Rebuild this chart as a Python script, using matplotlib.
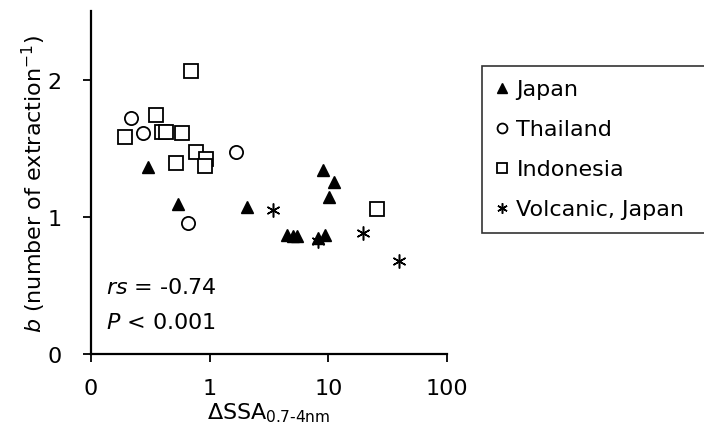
import numpy as np
import matplotlib
matplotlib.use('Agg')
import matplotlib.pyplot as plt
from matplotlib.ticker import FixedLocator, FixedFormatter, NullLocator

plt.rcParams['font.family'] = ['DejaVu Sans']
plt.rcParams['mathtext.fontset'] = 'dejavusans'

# data
japan_x = [0.30, 0.54, 2.05, 4.5, 5.0, 5.4, 8.2, 9.4, 9.1, 11.2, 10.1]
japan_y = [1.365, 1.09, 1.07, 0.87, 0.86, 0.857, 0.845, 0.87, 1.34, 1.256, 1.147]

thai_x = [0.218, 0.274, 1.66, 0.66]
thai_y = [1.72, 1.61, 1.47, 0.954]

indo_x = [0.70, 0.353, 0.194, 0.40, 0.43, 0.587, 0.76, 0.94, 0.91, 0.52, 25.5]
indo_y = [2.06, 1.744, 1.58, 1.62, 1.62, 1.61, 1.47, 1.42, 1.37, 1.39, 1.058]

volc_x = [3.4, 8.2, 19.7, 39.7]
volc_y = [1.05, 0.82, 0.88, 0.676]

xticks = [0.1, 1, 10, 100]
xtick_labels = ['0', '1', '10', '100']
yticks = [0, 1, 2]

fs = 16

fig = plt.figure(figsize=(7.04, 4.35), dpi=100)
ax = fig.add_axes([91/704, 1 - 355/435, (447 - 91)/704, (355 - 12)/435])

ax.plot(japan_x, japan_y, linestyle='none', marker='^', ms=9, color='black', label='Japan')
ax.plot(thai_x, thai_y, linestyle='none', marker='o', ms=9.5, mfc='white', mec='black', mew=1.3, label='Thailand')
ax.plot(indo_x, indo_y, linestyle='none', marker='s', ms=10, mfc='white', mec='black', mew=1.3, label='Indonesia')
ax.plot(volc_x, volc_y, linestyle='none', marker=(6, 2, 0), ms=10, color='black', mew=1.1, label='Volcanic, Japan')

ax.set_xscale('log')
ax.set_xlim(0.1, 100)
ax.set_ylim(0, 2.5)
ax.xaxis.set_major_locator(FixedLocator(xticks))
ax.xaxis.set_major_formatter(FixedFormatter(xtick_labels))
ax.xaxis.set_minor_locator(NullLocator())
ax.set_yticks(yticks)
ax.set_yticklabels([str(v) for v in yticks])

for s in ['top', 'right']:
    ax.spines[s].set_visible(False)
for s in ['left', 'bottom']:
    ax.spines[s].set_linewidth(1.6)
ax.tick_params(axis='both', direction='out', length=6, width=1.3, labelsize=fs, color='black')
ax.tick_params(axis='y', pad=15)
ax.tick_params(axis='x', pad=11)

ax.set_xlabel(r'$\mathregular{\Delta SSA_{0.7\text{-}4nm}}$', fontsize=fs, labelpad=2)
ax.set_ylabel(r'$\mathit{b}$ (number of extraction$^{\mathregular{-1}}$)', fontsize=fs, labelpad=0)

ax.text(0.135, 0.49, r'$\mathit{rs}$ = -0.74', fontsize=fs, va='center', ha='left')
ax.text(0.135, 0.23, r'$\mathit{P}$ < 0.001', fontsize=fs, va='center', ha='left')

# legend box runs off the right edge in the original
leg = fig.legend(loc='upper left', bbox_to_anchor=(482/704, 1 - 232/435, 230/704, 165/435),
                 mode='expand', fontsize=fs,
                 frameon=True, fancybox=False, edgecolor='black', handlelength=0.6,
                 handletextpad=0.35, labelspacing=0.9, borderpad=0.6, markerscale=0.75,
                 borderaxespad=0)
leg.get_frame().set_linewidth(1.2)

fig.savefig('out.png', dpi=100)
